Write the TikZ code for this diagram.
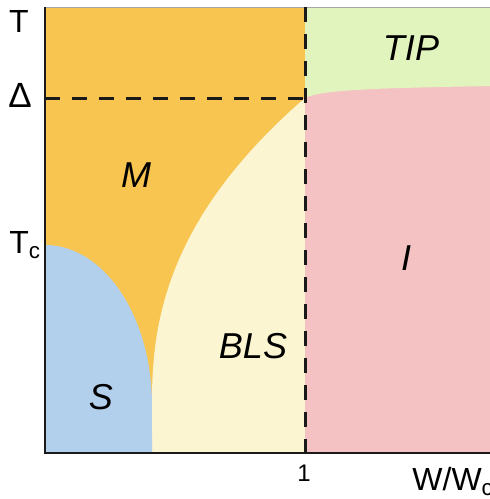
\documentclass[tikz,border=0pt]{standalone}
\usepackage{fontspec}
\setmainfont{Liberation Sans}
\definecolor{cM}{RGB}{248,197,80}
\definecolor{cS}{RGB}{178,208,236}
\definecolor{cBLS}{RGB}{251,245,209}
\definecolor{cI}{RGB}{244,194,194}
\definecolor{cTIP}{RGB}{226,244,190}
\definecolor{cAx}{RGB}{26,26,26}
\tikzset{
  axisline/.style={draw=cAx, line width=1pt},
  dashline/.style={draw=cAx, line width=1.5pt, dash pattern=on 7.5pt off 6pt},
  axlabel/.style={anchor=base, inner sep=0pt, font=\fontsize{16}{18}\selectfont},
  reglabel/.style={anchor=base, inner sep=0pt, font=\fontsize{18}{20}\selectfont\itshape},
}
\begin{document}
\begin{tikzpicture}[x=0.5pt, y=-0.5pt]
\useasboundingbox (0,0) rectangle (490,499);
% regions
\fill[cM] (45,7) rectangle (305,453);
\fill[cI] (305,7) rectangle (490,453);
\fill[cTIP] (305,7) -- (490,7) -- (490,86) .. controls (390,88) and (322,89) .. (305,98) -- cycle;
\fill[cBLS] (152,453) -- (152,403)
  -- plot[domain=50:355, samples=80, variable=\t] ({152+153*((\t-50)/305)^2.3}, {453-\t})
  -- (305,453) -- cycle;
\fill[cS] (45,453) -- (45,245)
  -- plot[domain=0:90, samples=60, variable=\a] ({45+107*sin(\a)}, {405-160*cos(\a)})
  -- (152,453) -- cycle;
% frame top
\draw[gray!70, line width=0.5pt] (45,7) -- (490,7);
% dashed lines
\draw[dashline] (45,98) -- (305,98);
\draw[dashline] (305,7) -- (305,453);
% axes
\draw[axisline] (45,7) -- (45,454);
\draw[axisline] (44.5,453) -- (490,453);
% axis labels
\node[axlabel] (lT) at (19,32) {T};
\node[axlabel, font=\fontsize{17.5}{19}\selectfont] (lD) at (20,107) {\symbol{"0394}};
\node[axlabel, anchor=base west] (lTc) at (9,253) {T\textsubscript{c}};
\node[axlabel, anchor=base, font=\fontsize{12}{14}\selectfont] (l1) at (304,481) {1};
\node[axlabel, anchor=base west] (lW) at (412,490) {W/W\textsubscript{c}};
% region labels
\node[reglabel] (lM) at (136,187) {M};
\node[reglabel] (lBLS) at (253,358) {BLS};
\node[reglabel] (lTIP) at (411,60) {TIP};
\node[reglabel] (lI) at (406,270) {I};
\node[reglabel] (lS) at (101,409) {S};
\end{tikzpicture}
\end{document}
